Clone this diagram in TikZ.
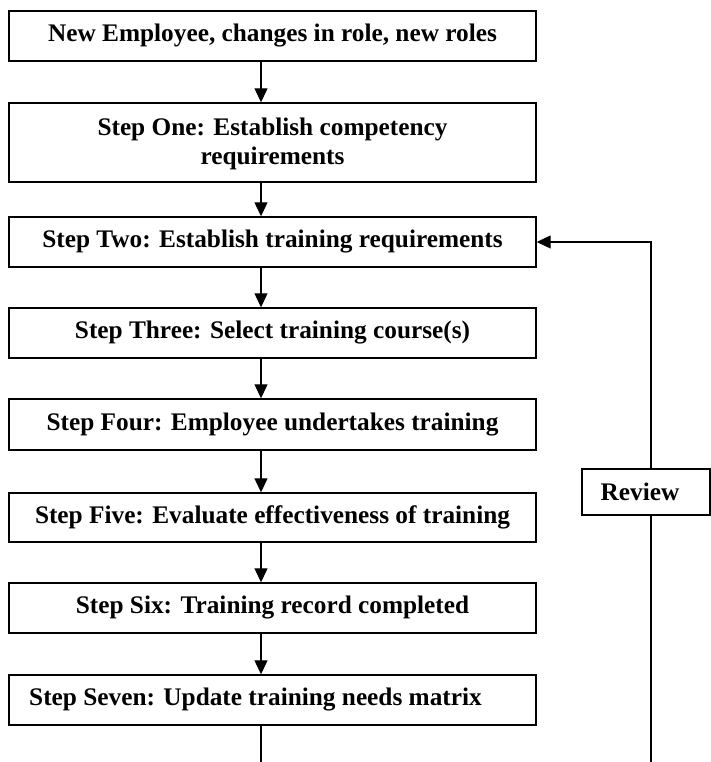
\documentclass[tikz,border=0pt]{standalone}
\usepackage{fontspec}
\setmainfont{Liberation Serif}
\usetikzlibrary{arrows.meta}
\begin{document}
\begin{tikzpicture}[x=1pt,y=-1pt,
  stepbox/.style={draw,line width=1.4pt,minimum width=527pt,minimum height=50pt,
    inner sep=0pt,align=center,font=\fontsize{25.3}{29}\selectfont\bfseries},
  flow/.style={line width=1.2pt,-{Triangle[length=14pt,width=13pt]}},
  plain/.style={line width=1.2pt}]
\useasboundingbox (0,0) rectangle (711,762);
% main sequence of steps
\node[stepbox] (b0) at (272.5,36) {New Employee, changes in role, new roles};
\node[stepbox,minimum height=79pt] (b1) at (272.5,142.5) {\rule{0pt}{20pt}Step One: Establish competency\\requirements};
\node[stepbox] (b2) at (272.5,242) {Step Two: Establish training requirements};
\node[stepbox] (b3) at (272.5,333) {Step Three: Select training course(s)};
\node[stepbox,minimum height=51pt] (b4) at (272.5,424.5) {Step Four: Employee undertakes training};
\node[stepbox,minimum height=49pt] (b5) at (272.5,517.5) {Step Five: Evaluate effectiveness of training};
\node[stepbox] (b6) at (272.5,608) {Step Six: Training record completed};
\node[stepbox] (b7) at (272.5,700) {Step Seven: Update training needs matrix\hspace{34pt}};
% review box on the feedback loop
\node[stepbox,minimum width=128pt,minimum height=46pt] (rev) at (646,492) {Review\hspace{12pt}};
% downward connectors
\foreach \a/\b in {b0/b1,b1/b2,b2/b3,b3/b4,b4/b5,b5/b6,b6/b7}
  \draw[flow] (\a.south -| 261,0) -- (\b.north -| 261,0);
\coordinate (endl) at (261,762);
\draw[plain] (b7.south -| endl) -- (endl);
% feedback loop back to step two
\coordinate (loopbot) at (651,762);
\coordinate (looptop) at (651,242);
\draw[plain] (loopbot) -- (rev.south -| loopbot);
\draw[flow] (rev.north -| loopbot) -- (looptop) -- (b2.east);
\end{tikzpicture}
\end{document}
